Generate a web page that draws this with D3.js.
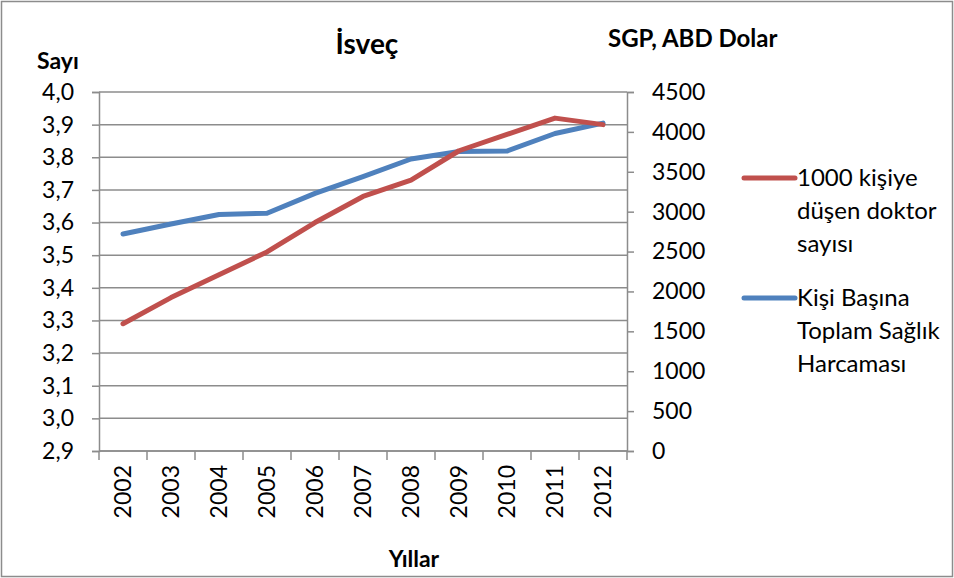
<!DOCTYPE html>
<html>
<head>
<meta charset="utf-8">
<script src="https://cdn.jsdelivr.net/npm/d3@7"></script>
<style>
  body { margin: 0; background: #fff; }
  text { font-family: Lato, "Open Sans", sans-serif; fill: #000; }
</style>
</head>
<body>
<div id="chart"></div>
<script>
// Veri
const years = ["2002", "2003", "2004", "2005", "2006", "2007", "2008", "2009", "2010", "2011", "2012"];
const doktor = [3.29, 3.37, 3.44, 3.51, 3.60, 3.68, 3.73, 3.82, 3.87, 3.92, 3.90];
const harcama = [2720, 2845, 2965, 2980, 3230, 3440, 3660, 3755, 3760, 3980, 4110];
const leftTicks = [2.9, 3.0, 3.1, 3.2, 3.3, 3.4, 3.5, 3.6, 3.7, 3.8, 3.9, 4.0];
const rightTicks = [0, 500, 1000, 1500, 2000, 2500, 3000, 3500, 4000, 4500];

const width = 954;
const height = 578;
const margin = { top: 92, right: 327, bottom: 127, left: 99 };
const grid = "#8c8c8c";
const fs = "23px";

const svg = d3.select("#chart").append("svg")
    .attr("width", width)
    .attr("height", height);

// Dış çerçeve
svg.append("rect")
    .attr("x", 1.5).attr("y", 1.5)
    .attr("width", width - 3).attr("height", height - 3)
    .attr("fill", "#fff").attr("stroke", grid).attr("stroke-width", 1.5);

// Ölçekler
const x = d3.scaleBand()
    .domain(years)
    .range([margin.left, width - margin.right]);

const y = d3.scaleLinear()
    .domain([2.9, 4.0])
    .range([height - margin.bottom, margin.top]);

const y2 = d3.scaleLinear()
    .domain([0, 4500])
    .range([height - margin.bottom, margin.top]);

// Izgara çizgileri
svg.append("g")
    .selectAll("line")
    .data(leftTicks)
    .join("line")
    .attr("x1", margin.left).attr("x2", width - margin.right)
    .attr("y1", d => y(d)).attr("y2", d => y(d))
    .attr("stroke", grid).attr("stroke-width", 1.5);

// Sol eksen
const fmt = d => d3.format(".1f")(d).replace(".", ",");
const gl = svg.append("g")
    .attr("transform", `translate(${margin.left},0)`)
    .call(d3.axisLeft(y).tickValues(leftTicks).tickFormat(fmt).tickSize(7).tickPadding(18));

// Sağ eksen
const gr = svg.append("g")
    .attr("transform", `translate(${width - margin.right},0)`)
    .call(d3.axisRight(y2).tickValues(rightTicks).tickFormat(d3.format("d")).tickSize(7).tickPadding(18));

// Alt eksen
const gb = svg.append("g")
    .attr("transform", `translate(0,${height - margin.bottom})`)
    .call(d3.axisBottom(x).tickSize(0));

gb.selectAll("text")
    .attr("transform", "rotate(-90)")
    .attr("dy", "0.35em")
    .attr("x", -14)
    .attr("y", 0)
    .style("text-anchor", "end");

// kategori sınır işaretleri
svg.append("g")
    .selectAll("line")
    .data(years.concat(["end"]))
    .join("line")
    .attr("x1", (d, i) => margin.left + i * x.step())
    .attr("x2", (d, i) => margin.left + i * x.step())
    .attr("y1", height - margin.bottom)
    .attr("y2", height - margin.bottom + 9)
    .attr("stroke", grid).attr("stroke-width", 1.5);

[gl, gr, gb].forEach(g => {
    g.selectAll(".domain").attr("stroke", grid).attr("stroke-width", 1.5);
    g.selectAll(".tick line").attr("stroke", grid).attr("stroke-width", 1.5);
    g.selectAll("text").style("font-size", fs).style("font-family", "Lato, 'Open Sans', sans-serif");
});
gb.select(".domain").attr("d", `M${margin.left},0H${width - margin.right}`);

// Çizgiler
const lineL = d3.line()
    .x((d, i) => x(years[i]) + x.bandwidth() / 2)
    .y(d => y(d));
const lineR = d3.line()
    .x((d, i) => x(years[i]) + x.bandwidth() / 2)
    .y(d => y2(d));

svg.append("path")
    .datum(harcama)
    .attr("d", lineR)
    .attr("fill", "none")
    .attr("stroke", "#4F81BD")
    .attr("stroke-width", 5)
    .attr("stroke-linecap", "round")
    .attr("stroke-linejoin", "round");

svg.append("path")
    .datum(doktor)
    .attr("d", lineL)
    .attr("fill", "none")
    .attr("stroke", "#C0504D")
    .attr("stroke-width", 5)
    .attr("stroke-linecap", "round")
    .attr("stroke-linejoin", "round");

// Başlıklar
svg.append("text")
    .attr("x", 367).attr("y", 54)
    .attr("text-anchor", "middle")
    .style("font-size", "28px").style("font-weight", "bold")
    .text("İsveç");

svg.append("text")
    .attr("x", 37).attr("y", 69)
    .style("font-size", fs).style("font-weight", "bold")
    .text("Sayı");

svg.append("text")
    .attr("x", 608).attr("y", 47)
    .style("font-size", "24px").style("font-weight", "bold")
    .text("SGP, ABD Dolar");

svg.append("text")
    .attr("x", 414).attr("y", 567)
    .attr("text-anchor", "middle")
    .style("font-size", fs).style("font-weight", "bold")
    .text("Yıllar");

// Lejant
const legend = [
    { color: "#C0504D", lines: ["1000 kişiye", "düşen doktor", "sayısı"], y: 178 },
    { color: "#4F81BD", lines: ["Kişi Başına", "Toplam Sağlık", "Harcaması"], y: 298 }
];
legend.forEach(l => {
    svg.append("line")
        .attr("x1", 744).attr("x2", 795)
        .attr("y1", l.y).attr("y2", l.y)
        .attr("stroke", l.color).attr("stroke-width", 5)
        .attr("stroke-linecap", "round");
    l.lines.forEach((t, i) => {
        svg.append("text")
            .attr("x", 797).attr("y", l.y + i * 33)
            .attr("dy", "0.35em")
            .style("font-size", "24px")
            .text(t);
    });
});
</script>
</body>
</html>
